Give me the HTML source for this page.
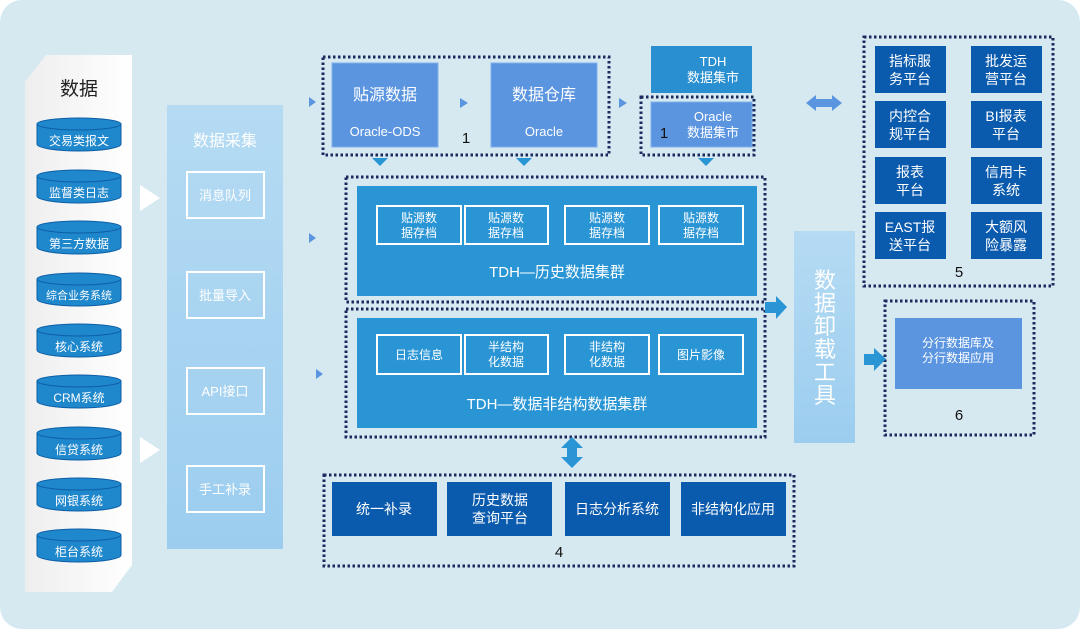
<!DOCTYPE html>
<html><head><meta charset="utf-8"><style>
html,body{margin:0;padding:0;background:#fff}
body{width:1080px;height:629px;overflow:hidden;font-family:"Liberation Sans","Noto Sans CJK SC",sans-serif}
svg text{font-family:"Liberation Sans","Noto Sans CJK SC",sans-serif}
</style></head><body>
<svg width="1080" height="629" viewBox="0 0 1080 629" xmlns="http://www.w3.org/2000/svg">
<defs>
<linearGradient id="lp" x1="0" y1="0" x2="1" y2="0"><stop offset="0" stop-color="#eeeeee"/><stop offset="1" stop-color="#ffffff"/></linearGradient>
<linearGradient id="cp" x1="0" y1="0" x2="0" y2="1"><stop offset="0" stop-color="#b5dbf3"/><stop offset="1" stop-color="#9ccdef"/></linearGradient>
</defs>
<rect x="0" y="0" width="1080" height="629" rx="22" fill="#d6e9f1"/>
<!-- left data panel -->
<path d="M46,55 L132,55 L132,565 L112,592 L25,592 L25,82 Z" fill="url(#lp)"/>
<text x="79" y="95" font-size="19" text-anchor="middle" fill="#222">数据</text>
<g font-size="12" fill="#fff" text-anchor="middle">
<g id="cyl">
</g>
</g>
<g fill="#1f87cc" stroke="#0d5ea6" stroke-width="1">
<path d="M37,124 v20 a42,7 0 0 0 84,0 v-20"/><ellipse cx="79" cy="124" rx="42" ry="6"/>
<path d="M37,176 v20 a42,7 0 0 0 84,0 v-20"/><ellipse cx="79" cy="176" rx="42" ry="6"/>
<path d="M37,227 v20 a42,7 0 0 0 84,0 v-20"/><ellipse cx="79" cy="227" rx="42" ry="6"/>
<path d="M37,279 v20 a42,7 0 0 0 84,0 v-20"/><ellipse cx="79" cy="279" rx="42" ry="6"/>
<path d="M37,330 v20 a42,7 0 0 0 84,0 v-20"/><ellipse cx="79" cy="330" rx="42" ry="6"/>
<path d="M37,381 v20 a42,7 0 0 0 84,0 v-20"/><ellipse cx="79" cy="381" rx="42" ry="6"/>
<path d="M37,433 v20 a42,7 0 0 0 84,0 v-20"/><ellipse cx="79" cy="433" rx="42" ry="6"/>
<path d="M37,484 v20 a42,7 0 0 0 84,0 v-20"/><ellipse cx="79" cy="484" rx="42" ry="6"/>
<path d="M37,535 v20 a42,7 0 0 0 84,0 v-20"/><ellipse cx="79" cy="535" rx="42" ry="6"/>
</g>
<g font-size="12" fill="#fff" text-anchor="middle">
<text x="79" y="145">交易类报文</text>
<text x="79" y="197">监督类日志</text>
<text x="79" y="248">第三方数据</text>
<text x="79" y="299" font-size="11">综合业务系统</text>
<text x="79" y="351">核心系统</text>
<text x="79" y="402">CRM系统</text>
<text x="79" y="454">信贷系统</text>
<text x="79" y="505">网银系统</text>
<text x="79" y="556">柜台系统</text>
</g>
<polygon points="140,185 160,198 140,211" fill="#fff"/>
<polygon points="140,437 160,450 140,463" fill="#fff"/>
<!-- collection -->
<rect x="167" y="105" width="116" height="444" fill="url(#cp)"/>
<text x="225" y="146" font-size="16" fill="#fff" text-anchor="middle">数据采集</text>
<g fill="none" stroke="#fff" stroke-width="2">
<rect x="187" y="172" width="77" height="46"/><rect x="187" y="272" width="77" height="46"/>
<rect x="187" y="368" width="77" height="46"/><rect x="187" y="466" width="77" height="46"/>
</g>
<g font-size="13" fill="#fff" text-anchor="middle">
<text x="225" y="200">消息队列</text><text x="225" y="300">批量导入</text>
<text x="225" y="396">API接口</text><text x="225" y="494">手工补录</text>
</g>
<g fill="#5b95e0">
<polygon points="309,97 316,102 309,107"/><polygon points="309,233 316,238 309,243"/><polygon points="316,369 323,374 316,379"/>
<polygon points="460,98 468,103 460,108"/><polygon points="619,98 627,103 619,108"/>
</g>
<g fill="#2a95d5">
<polygon points="372,158 388,158 380,166"/><polygon points="516,158 532,158 524,166"/><polygon points="698,158 714,158 706,166"/>
</g>
<!-- group1 -->
<g fill="#5b95e0" stroke="#7fb0ea" stroke-width="1">
<rect x="332" y="63" width="106" height="84"/><rect x="491" y="63" width="106" height="84"/>
<rect x="651" y="102" width="101" height="45"/>
</g>
<rect x="651" y="46" width="101" height="47" fill="#2a8fd0"/>
<g fill="#fff" text-anchor="middle">
<text x="385" y="100" font-size="16">贴源数据</text><text x="385" y="136" font-size="13">Oracle-ODS</text>
<text x="544" y="100" font-size="16">数据仓库</text><text x="544" y="136" font-size="13">Oracle</text>
<text x="713" y="66" font-size="13">TDH</text><text x="713" y="82" font-size="13">数据集市</text>
<text x="713" y="121" font-size="13">Oracle</text><text x="713" y="137" font-size="13">数据集市</text>
</g>
<g fill="none" stroke="#1a2a5e" stroke-width="3" stroke-dasharray="2.5,2.5">
<rect x="323" y="57" width="286" height="98"/>
<rect x="641" y="97" width="113" height="58"/>
<rect x="346" y="177" width="419" height="125"/>
<rect x="346" y="309" width="419" height="128"/>
<rect x="864" y="37" width="189" height="249"/>
<rect x="885" y="301" width="149" height="134"/>
<rect x="324" y="475" width="470" height="91"/>
</g>
<g font-size="15" fill="#111" text-anchor="middle">
<text x="466" y="143">1</text><text x="664" y="138">1</text>
<text x="370" y="288">2</text><text x="370" y="419">3</text>
<text x="959" y="277">5</text><text x="959" y="420">6</text><text x="559" y="557">4</text>
</g>
<!-- group2/3 -->
<rect x="357" y="186" width="400" height="110" fill="#2a95d5"/>
<rect x="357" y="318" width="400" height="110" fill="#2a95d5"/>
<g fill="none" stroke="#fff" stroke-width="2">
<rect x="377" y="206" width="84" height="38"/><rect x="465" y="206" width="83" height="38"/><rect x="565" y="206" width="84" height="38"/><rect x="659" y="206" width="84" height="38"/>
<rect x="377" y="335" width="84" height="39"/><rect x="465" y="335" width="83" height="39"/><rect x="565" y="335" width="84" height="39"/><rect x="659" y="335" width="84" height="39"/>
</g>
<g font-size="12" fill="#fff" text-anchor="middle">
<text x="419" y="222">贴源数</text><text x="419" y="237">据存档</text>
<text x="506" y="222">贴源数</text><text x="506" y="237">据存档</text>
<text x="607" y="222">贴源数</text><text x="607" y="237">据存档</text>
<text x="701" y="222">贴源数</text><text x="701" y="237">据存档</text>
<text x="419" y="359">日志信息</text>
<text x="506" y="351">半结构</text><text x="506" y="366">化数据</text>
<text x="607" y="351">非结构</text><text x="607" y="366">化数据</text>
<text x="701" y="359">图片影像</text>
<text x="557" y="277" font-size="15">TDH—历史数据集群</text>
<text x="557" y="409" font-size="15">TDH—数据非结构数据集群</text>
</g>
<!-- arrows -->
<polygon points="765,302 776,302 776,296 787,307 776,319 776,313 765,313" fill="#2a95d5"/>
<polygon points="864,354 874,354 874,348 886,359 874,371 874,365 864,365" fill="#2a95d5"/>
<polygon points="806,103 816,95 816,99 832,99 832,95 842,103 832,111 832,107 816,107 816,111" fill="#5b95e0"/>
<polygon points="572,437 583,448 577,448 577,457 583,457 572,468 561,457 567,457 567,448 561,448" fill="#2a95d5"/>
<!-- unload -->
<rect x="794" y="231" width="61" height="212" fill="url(#cp)"/>
<g font-size="22" fill="#fff" text-anchor="middle">
<text x="825" y="288">数</text><text x="825" y="311">据</text><text x="825" y="334">卸</text><text x="825" y="357">载</text><text x="825" y="380">工</text><text x="825" y="403">具</text>
</g>
<!-- group 5 -->
<g fill="#0a5aad">
<rect x="875" y="46" width="71" height="47"/><rect x="971" y="46" width="71" height="47"/>
<rect x="875" y="101" width="71" height="47"/><rect x="971" y="101" width="71" height="47"/>
<rect x="875" y="157" width="71" height="47"/><rect x="971" y="157" width="71" height="47"/>
<rect x="875" y="212" width="71" height="47"/><rect x="971" y="212" width="71" height="47"/>
<rect x="332" y="482" width="105" height="54"/><rect x="447" y="482" width="105" height="54"/>
<rect x="565" y="482" width="105" height="54"/><rect x="681" y="482" width="105" height="54"/>
</g>
<rect x="895" y="318" width="127" height="71" fill="#5b95e0"/>
<g font-size="14" fill="#fff" text-anchor="middle">
<text x="910" y="66">指标服</text><text x="910" y="84">务平台</text>
<text x="1006" y="66">批发运</text><text x="1006" y="84">营平台</text>
<text x="910" y="121">内控合</text><text x="910" y="139">规平台</text>
<text x="1006" y="121">BI报表</text><text x="1006" y="139">平台</text>
<text x="910" y="177">报表</text><text x="910" y="195">平台</text>
<text x="1006" y="177">信用卡</text><text x="1006" y="195">系统</text>
<text x="910" y="232">EAST报</text><text x="910" y="250">送平台</text>
<text x="1006" y="232">大额风</text><text x="1006" y="250">险暴露</text>
<text x="384" y="514">统一补录</text>
<text x="500" y="505">历史数据</text><text x="500" y="523">查询平台</text>
<text x="617" y="514">日志分析系统</text>
<text x="733" y="514">非结构化应用</text>
<text x="958" y="347" font-size="12">分行数据库及</text><text x="958" y="362" font-size="12">分行数据应用</text>
</g>
</svg>
</body></html>
